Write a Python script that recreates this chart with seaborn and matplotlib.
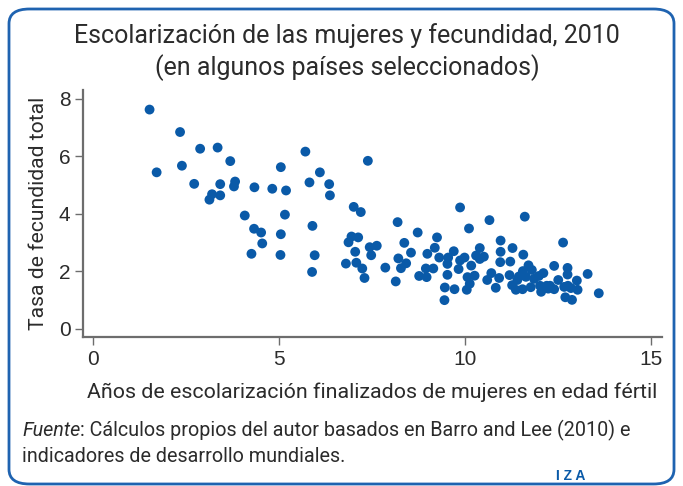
import matplotlib
matplotlib.use("Agg")
import matplotlib.pyplot as plt
from matplotlib.patches import FancyBboxPatch
import pandas as pd
import seaborn as sns

# Years of schooling completed by women of fertile age (x) and total fertility rate (y)
schooling = [
    1.52, 2.34, 1.71, 2.39, 2.88, 3.35, 3.69, 2.72, 3.42, 3.82, 3.79, 3.20, 3.13, 3.42,
    4.34, 4.82, 5.05, 5.19, 4.08, 5.16, 4.33, 4.52, 5.05, 4.55, 4.26, 5.04,
    5.71, 6.10, 5.82, 6.35, 6.37, 7.39, 7.01, 7.20, 5.90, 5.96, 5.89, 6.95, 6.87, 7.13,
    7.05, 6.80, 7.08, 7.24, 7.30, 7.44, 7.63, 7.48, 7.86, 8.14, 8.19, 8.37, 8.21, 8.28,
    8.42, 8.55, 8.73, 8.77, 8.95, 8.97, 8.99, 9.15, 9.19, 9.25, 9.31, 9.53, 9.55, 9.53,
    9.46, 9.45, 9.70, 9.72, 9.83, 9.87, 9.99, 9.87, 10.11, 10.05, 10.07, 10.13, 10.17,
    10.26, 10.30, 10.40, 10.40, 10.51, 10.60, 10.66,
    11.61, 10.96, 10.96, 10.95, 11.28, 11.22, 11.57, 10.71, 10.83, 10.92, 11.20, 11.27,
    11.37, 11.41, 11.45, 11.55, 11.56, 11.55, 11.64, 11.71, 11.80, 11.77, 11.86, 11.99,
    12.11, 12.02, 12.05, 12.20, 12.29, 12.24, 12.40, 12.40, 12.51, 12.64, 12.76, 12.76,
    12.67, 12.77, 12.85, 13.03, 13.01, 12.70, 12.88, 13.30, 13.60,
]
fertility = [
    7.62, 6.84, 5.44, 5.67, 6.26, 6.30, 5.83, 5.04, 5.03, 5.12, 4.95, 4.68, 4.49, 4.64,
    4.92, 4.87, 5.62, 4.81, 3.94, 3.97, 3.48, 3.35, 3.29, 2.97, 2.61, 2.57,
    6.16, 5.44, 5.09, 5.03, 4.64, 5.84, 4.24, 4.06, 3.58, 2.56, 1.98, 3.21, 3.01, 3.18,
    2.68, 2.27, 2.30, 2.10, 1.77, 2.84, 2.89, 2.56, 2.13, 1.65, 3.71, 2.99, 2.45, 2.11,
    2.28, 2.65, 3.35, 1.84, 2.10, 1.80, 2.61, 2.10, 2.82, 3.18, 2.48, 2.26, 2.48, 1.88,
    1.44, 1.00, 2.70, 1.38, 2.08, 2.38, 2.48, 4.22, 3.49, 1.36, 1.80, 1.57, 2.20,
    1.85, 2.55, 2.81, 2.43, 2.51, 1.70, 3.78,
    3.90, 3.07, 2.68, 2.32, 2.81, 2.34, 2.58, 1.94, 1.43, 1.77, 1.87, 1.52,
    1.36, 1.70, 1.82, 1.94, 2.01, 1.38, 1.81, 2.21, 2.05, 1.45, 1.74, 1.84,
    1.94, 1.50, 1.29, 1.50, 1.50, 1.40, 1.38, 2.19, 1.70, 3.00, 2.12, 1.89,
    1.46, 1.50, 1.42, 1.36, 1.68, 1.10, 1.01, 1.91, 1.24,
]
x_ticks = [0, 5, 10, 15]
y_ticks = [0, 2, 4, 6, 8]

df = pd.DataFrame({"schooling": schooling, "fertility": fertility})

sns.set_style("white")
narrow = ["Roboto", "DejaVu Sans"]
plt.rcParams["font.family"] = ["Liberation Sans", "DejaVu Sans"]

blue = "#0a5aa8"
grey = "#6d6d6d"
text_col = "#2b2b2b"

fig = plt.figure(figsize=(6.83, 4.86), dpi=100)
ax = fig.add_axes([83 / 683, 1 - 337 / 486, (662 - 83) / 683, (337 - 90) / 486])

sns.scatterplot(data=df, x="schooling", y="fertility", ax=ax, color=blue,
                s=50, edgecolor="none", linewidth=0)

ax.set_xlim(-0.27, 15.3)
ax.set_ylim(-0.28, 8.3)
ax.set_xticks(x_ticks)
ax.set_yticks(y_ticks)
ax.tick_params(axis="both", direction="out", length=6, width=1, color=grey,
               labelsize=15, labelcolor=text_col, pad=3, left=True, bottom=True)
for side in ["top", "right"]:
    ax.spines[side].set_visible(False)
for side in ["left", "bottom"]:
    ax.spines[side].set_color(grey)
    ax.spines[side].set_linewidth(1.6)

ax.set_xlabel("Años de escolarización finalizados de mujeres en edad fértil",
              fontsize=15.4, color=text_col, family=narrow, labelpad=10)
ax.set_ylabel("Tasa de fecundidad total", fontsize=15.2, color=text_col,
              family=narrow, labelpad=8)

fig.text(0.508, 1 - 36 / 486, "Escolarización de las mujeres y fecundidad, 2010",
         ha="center", va="center", fontsize=18, color=text_col, family=narrow)
fig.text(0.508, 1 - 68 / 486, "(en algunos países seleccionados)",
         ha="center", va="center", fontsize=18, color=text_col, family=narrow)

# source note: italic "Fuente" followed by the rest of the line
src = fig.text(22 / 683, 1 - 430 / 486, "Fuente", ha="left", va="center",
               fontsize=14.2, color=text_col, family=narrow, style="italic")
fig.canvas.draw()
bb = src.get_window_extent(renderer=fig.canvas.get_renderer())
fig.text(bb.x1 / fig.bbox.width, 1 - 430 / 486,
         ": Cálculos propios del autor basados en Barro and Lee (2010) e",
         ha="left", va="center", fontsize=14.2, color=text_col, family=narrow)
fig.text(22 / 683, 1 - 456 / 486, "indicadores de desarrollo mundiales.",
         ha="left", va="center", fontsize=14.2, color=text_col, family=narrow)
fig.text(571 / 683, 1 - 476 / 486, "I Z A", ha="center", va="center", fontsize=10,
         color=blue, weight="bold")

frame = FancyBboxPatch((9 / 683, 2 / 486), 665 / 683, 475 / 486,
                       boxstyle="round,pad=0,rounding_size=0.03",
                       transform=fig.transFigure, fill=False,
                       edgecolor="#1f63b0", linewidth=2)
fig.patches.append(frame)

fig.savefig("out.png", dpi=100)
